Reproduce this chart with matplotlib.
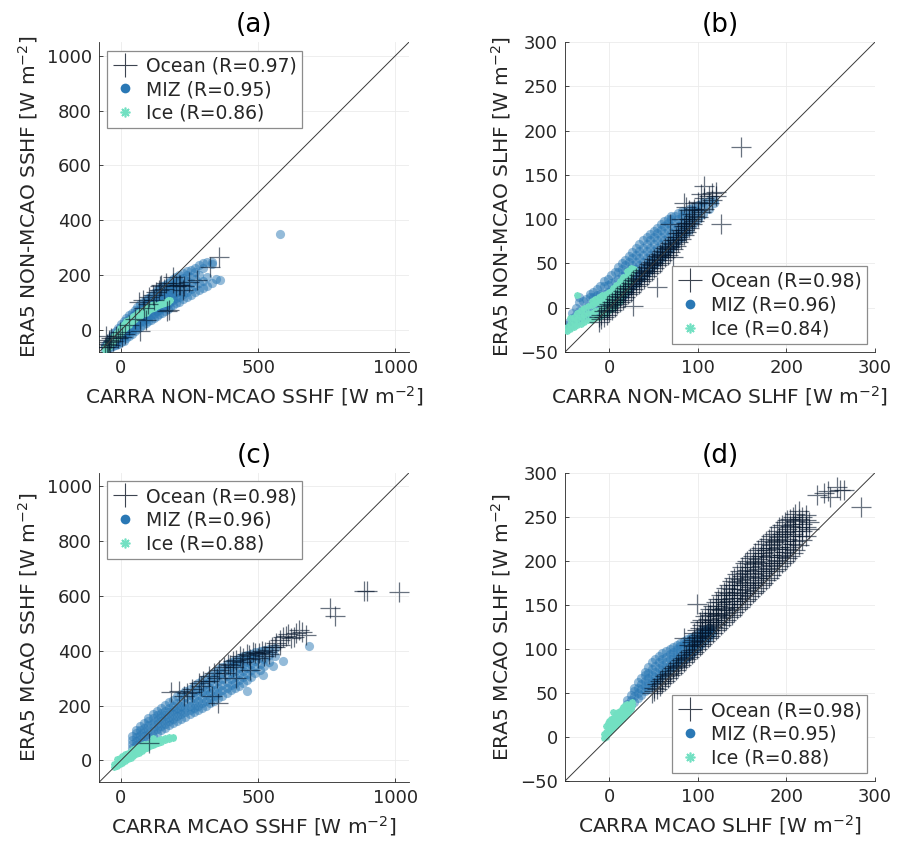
import matplotlib
matplotlib.use('Agg')
import matplotlib.pyplot as plt
from matplotlib.lines import Line2D
import numpy as np

plt.rcParams['font.family'] = 'DejaVu Sans'

# ---- data ----
# each cloud is stored as {CARRA value: [ERA5 values at that CARRA value]}, W m-2

# (a) NON-MCAO SSHF
a_miz = {-60: [-72, -62, -55], -50: [-68, -58, -46], -40: [-64, -52, -40, -30],
         -30: [-58, -46, -34, -22, -12], -20: [-54, -40, -28, -15, -3], -10: [-50, -36, -22, -8, 8],
         0: [-45, -30, -16, -2, 12, 22], 10: [-38, -24, -10, 5, 20, 32], 20: [-30, -16, -2, 14, 30, 44],
         30: [-22, -8, 8, 24, 40, 55], 40: [-14, 2, 18, 34, 50, 64], 50: [-5, 12, 28, 44, 60, 74],
         60: [5, 20, 36, 52, 68, 84], 70: [12, 28, 44, 60, 76, 94], 80: [18, 34, 50, 66, 84, 102],
         90: [25, 42, 58, 74, 92, 110], 100: [32, 48, 64, 80, 98, 118], 110: [38, 54, 70, 88, 106, 126],
         120: [45, 60, 78, 96, 114, 136], 130: [52, 68, 86, 104, 122, 146], 140: [58, 74, 92, 110, 130, 152],
         150: [62, 80, 98, 116, 136, 160], 160: [70, 88, 106, 124, 144, 166], 170: [76, 94, 112, 130, 150, 172],
         180: [85, 102, 120, 138, 158, 178], 190: [90, 108, 126, 146, 166, 186],
         200: [98, 116, 134, 152, 172, 195], 210: [104, 122, 140, 160, 180, 200],
         225: [112, 130, 150, 170, 190, 207], 240: [120, 140, 160, 180, 200, 214],
         255: [128, 150, 172, 195, 220], 270: [138, 160, 185, 210, 228], 285: [145, 170, 200, 236],
         300: [152, 180, 225, 243], 315: [162, 195, 248], 330: [172, 240, 250], 345: [185],
         362: [183], 580: [350]}
a_ice = {-60: [-72, -62], -52: [-68, -58, -48], -44: [-60, -50, -40], -36: [-52, -42, -32],
         -28: [-42, -32, -22], -20: [-32, -22, -12], -12: [-22, -12, -2], -4: [-14, -4, 8],
         4: [-4, 6, 16], 12: [4, 14, 24], 20: [12, 22, 32], 28: [20, 30, 38], 36: [28, 36, 44],
         44: [34, 42, 50], 52: [40, 48, 56], 60: [46, 54, 62], 70: [52, 60, 68], 80: [58, 66, 74],
         90: [64, 72, 80], 100: [70, 78, 86], 110: [76, 84, 90], 120: [80, 88, 94], 130: [86, 92],
         140: [90, 96], 150: [94, 100], 160: [98, 104], 170: [102, 108], 180: [108]}
a_ocean = {-60: [-62], -55: [-23], -52: [-50], -49: [-60], -45: [-44], -43: [-35], -40: [-55],
           -35: [-30], -28: [-38], -20: [-22], -12: [-30], -5: [-8], 5: [-25], 15: [-15], 30: [20],
           50: [40], 67: [104], 70: [-5], 79: [110], 85: [80], 91: [38], 100: [95], 103: [122],
           115: [128], 120: [110], 128: [140], 140: [147], 143: [159], 146: [165], 155: [150],
           164: [171], 168: [68], 176: [74], 188: [171], 191: [195], 200: [160], 213: [165],
           216: [165], 225: [147], 231: [159], 249: [177], 277: [183], 326: [231], 356: [268]}

# (b) NON-MCAO SLHF
b_miz = {-50: [-24, -20], -46: [-22, -16], -42: [-20, -12, -6], -38: [-16, -8, 0],
         -34: [-14, -4, 6, 12], -30: [-12, -2, 8], -26: [-10, 0, 10], -22: [-8, 2, 12, 16],
         -18: [-6, 4, 12, 18], -14: [-4, 6, 14, 21], -10: [-2, 8, 16, 24], -6: [0, 8, 16, 24, 30],
         -2: [2, 10, 18, 26, 33], 2: [4, 12, 20, 28, 37], 6: [6, 14, 22, 30, 40],
         10: [8, 16, 24, 32, 40, 46], 14: [12, 20, 28, 36, 44, 50], 18: [16, 24, 32, 40, 48, 54],
         22: [20, 28, 36, 44, 52, 58], 26: [24, 32, 40, 48, 56, 63], 30: [28, 36, 44, 52, 60, 67],
         34: [32, 40, 48, 56, 64, 72], 38: [36, 44, 52, 60, 68, 76], 42: [40, 48, 56, 64, 72, 80],
         46: [44, 52, 60, 68, 76, 83], 50: [48, 56, 64, 72, 80, 87], 54: [52, 60, 68, 76, 84, 90],
         58: [56, 64, 72, 80, 88, 94], 62: [60, 68, 76, 84, 92, 98], 66: [64, 72, 80, 88, 96, 100],
         70: [68, 76, 84, 92, 100, 104], 74: [72, 80, 88, 96, 104], 78: [76, 84, 92, 100, 107],
         82: [80, 88, 96, 104, 109], 86: [84, 92, 100, 108], 90: [88, 96, 104, 112],
         95: [94, 102, 110, 114], 100: [100, 108, 116], 106: [106, 114, 119], 112: [112, 120],
         118: [118, 122]}
b_ice = {-48: [-26, -22], -44: [-24, -18, -12], -40: [-22, -16, -10], -36: [-20, -13, -6, 14],
         -32: [-18, -10, -3], -28: [-16, -8, 0], -24: [-14, -6, 2], -20: [-14, -6, 3, 8],
         -16: [-12, -4, 5, 10], -12: [-10, -2, 6, 12], -8: [-8, 0, 8, 14], -4: [-6, 2, 10, 16],
         0: [-3, 5, 12, 18], 4: [0, 8, 16, 22], 8: [4, 12, 20, 26], 12: [8, 16, 24, 30],
         16: [14, 22, 30, 35], 20: [20, 28, 36, 42], 24: [30, 38, 45], 28: [44]}
b_ocean = {-12: [-16, -10], -9: [-13, -8], -6: [-10, -4], -3: [-8, -2, 2], 0: [-5, 0, 4],
           3: [-2, 3, 7], 6: [1, 6, 10], 9: [4, 9, 13], 12: [6, 12, 16], 15: [9, 15, 19],
           18: [12, 18, 22], 21: [15, 21, 25], 24: [18, 24, 28], 27: [1.5, 21, 27, 31],
           30: [24, 30, 34], 33: [27, 33, 37], 36: [30, 36, 40], 39: [33, 39, 43], 42: [36, 42, 46],
           45: [39, 45, 49], 48: [42, 48, 52], 51: [45, 51, 55], 54: [23, 48, 54, 58],
           57: [51, 57, 61], 60: [54, 60, 64], 63: [57, 63, 67], 66: [60, 66, 70],
           69: [63, 69, 73, 95], 72: [57, 66, 72, 76], 75: [70, 76, 80], 78: [74, 80, 84],
           81: [78, 84, 88, 100], 84: [82, 88, 92, 118], 87: [86, 92, 96, 114], 90: [90, 96, 100, 110],
           93: [94, 100, 106], 96: [98, 104, 112], 100: [102, 110, 119], 104: [108, 118, 128],
           107: [112, 124, 138], 112: [118, 126], 116: [122, 130], 120: [126, 131], 126: [95],
           149: [182]}

# (c) MCAO SSHF
c_miz = {40: [45, 60, 75, 90], 55: [55, 70, 85, 100, 110], 70: [62, 78, 94, 110, 124],
         85: [72, 88, 104, 120, 138], 100: [80, 96, 112, 128, 144, 155],
         115: [90, 106, 122, 138, 154, 168], 130: [100, 116, 132, 148, 164, 180],
         145: [110, 126, 142, 158, 174, 192], 160: [118, 134, 150, 166, 182, 202],
         175: [128, 144, 160, 176, 192, 212], 190: [136, 152, 168, 184, 200, 222],
         205: [145, 161, 177, 193, 210, 234], 220: [152, 168, 184, 200, 218, 244],
         235: [160, 176, 192, 210, 230, 252], 250: [168, 184, 200, 218, 238, 262],
         265: [176, 192, 210, 228, 248, 272], 280: [184, 200, 218, 238, 258, 282],
         295: [192, 210, 228, 248, 268, 292], 310: [200, 218, 238, 258, 280, 302],
         325: [208, 226, 246, 266, 290, 312], 340: [216, 236, 256, 278, 300, 322],
         355: [226, 246, 266, 288, 310, 332], 370: [236, 256, 276, 298, 320, 342],
         385: [246, 266, 286, 308, 330, 350], 400: [256, 276, 296, 318, 340, 358],
         415: [264, 284, 306, 328, 350, 365], 430: [272, 294, 316, 338, 360, 372],
         445: [282, 304, 326, 348, 368, 380], 460: [252, 292, 316, 338, 360, 385],
         475: [305, 330, 352, 372, 390], 490: [318, 340, 362, 382, 395], 505: [330, 352, 374, 398],
         516: [313], 520: [345, 370, 402], 540: [360, 385, 406], 553: [343], 560: [380, 410],
         589: [361], 686: [416]}
c_ice = {-25: [-25, -15], -15: [-20, -8, 4], -5: [-14, -2, 10], 5: [-8, 4, 16], 15: [-2, 10, 22],
         25: [4, 16, 28], 35: [10, 22, 34], 45: [16, 28, 40], 55: [22, 34, 46], 65: [28, 40, 50],
         75: [34, 46, 56], 85: [40, 52, 60], 95: [46, 58], 105: [52, 62], 115: [56, 66, 80],
         125: [60, 70], 135: [64, 74], 145: [68, 78], 160: [74, 82], 175: [78, 84], 190: [80, 86]}
c_ocean = {103: [63], 182: [250], 210: [252], 230: [235], 240: [245], 260: [250, 260],
           286: [282], 290: [270], 300: [290], 320: [290], 322: [307], 330: [235], 340: [320],
           350: [300], 352: [209], 358: [331], 375: [340], 380: [320], 390: [350], 399: [349],
           407: [361], 410: [340], 420: [365, 300], 432: [380], 440: [360], 445: [375], 458: [388],
           468: [386], 470: [370, 330], 480: [395], 490: [392], 500: [375], 504: [392], 515: [400],
           520: [380], 525: [395], 540: [390], 541: [404], 550: [415], 560: [415], 565: [428],
           580: [440, 420], 590: [450], 601: [453], 610: [460], 620: [445], 629: [452], 638: [465],
           650: [477], 660: [470], 674: [459], 763: [556], 781: [526], 885: [617], 897: [617],
           1012: [614]}

# (d) MCAO SLHF
d_miz = {20: [34, 38, 42], 24: [36, 42, 48], 28: [40, 46, 52, 56], 32: [44, 50, 56, 62],
         36: [48, 54, 60, 67], 40: [52, 58, 64, 70, 74], 44: [55, 61, 67, 73, 80],
         48: [58, 64, 70, 77, 85], 52: [62, 68, 74, 81, 89], 56: [66, 72, 78, 85, 92],
         60: [70, 76, 82, 88, 95], 64: [73, 79, 85, 91, 98], 68: [76, 82, 88, 94, 100],
         72: [79, 85, 91, 97, 102], 76: [82, 88, 94, 100, 104], 80: [85, 91, 97, 103, 107],
         84: [88, 94, 100, 105, 109], 88: [91, 97, 103, 108, 111], 92: [94, 100, 106, 111, 114],
         96: [98, 104, 109, 114], 100: [102, 107, 112, 117], 104: [106, 111, 116, 120],
         108: [110, 115, 120, 123], 112: [114, 119, 124], 116: [118, 122]}
d_ice = {-6: [-1, 3], -4: [0, 6, 12], -2: [4, 10, 16], 0: [6, 12, 18], 2: [8, 14, 20],
         4: [10, 16, 22, 28], 6: [12, 18, 24], 8: [14, 20, 26], 10: [16, 22, 28], 12: [18, 24, 30],
         14: [20, 26, 32], 16: [22, 28, 34], 18: [24, 30, 36], 20: [26, 32, 38], 22: [30, 36],
         24: [32, 38], 26: [36, 40]}
d_ocean = {48: [50], 51: [52, 56], 54: [55, 60], 57: [58, 63], 60: [61, 66], 63: [64, 69],
           66: [67, 72], 69: [70, 75], 72: [73, 78], 75: [76, 81], 78: [79, 84], 81: [82, 87],
           84: [85, 90, 112], 87: [88, 93], 90: [91, 96, 104], 93: [94, 99, 108],
           96: [97, 103, 110, 118], 99: [100, 106, 113, 121, 151], 102: [103, 109, 116, 124, 130],
           105: [106, 112, 119, 127, 133], 108: [109, 115, 123, 131, 137],
           111: [112, 118, 126, 134, 141], 114: [115, 122, 130, 138, 145],
           117: [118, 125, 133, 141, 149], 120: [121, 128, 137, 145, 153],
           123: [124, 131, 140, 149, 157], 126: [127, 135, 144, 153, 161],
           129: [130, 138, 147, 157, 165], 132: [133, 141, 151, 161, 169],
           135: [136, 144, 154, 164, 173], 138: [139, 148, 158, 168, 177],
           141: [142, 151, 161, 172, 181], 144: [145, 154, 165, 176, 185],
           147: [148, 158, 168, 179, 189], 150: [151, 161, 172, 183, 193],
           153: [154, 164, 175, 186, 197], 156: [157, 167, 178, 190, 200],
           159: [160, 170, 182, 193, 203], 162: [163, 173, 185, 196, 206],
           165: [166, 176, 188, 199, 209], 168: [169, 180, 191, 202, 212],
           171: [172, 183, 194, 205, 215], 174: [175, 186, 197, 209, 219],
           177: [178, 189, 200, 212, 222], 180: [181, 192, 204, 215, 225],
           183: [184, 195, 207, 218, 228], 186: [188, 198, 210, 221, 231],
           189: [191, 201, 213, 224, 234], 192: [194, 204, 216, 227, 238],
           195: [197, 207, 219, 230, 241], 198: [200, 210, 222, 233, 244],
           201: [203, 213, 225, 236, 246], 204: [206, 216, 228, 239, 248],
           207: [209, 219, 231, 242, 250], 210: [212, 222, 234, 245, 253],
           214: [218, 228, 238, 248, 256], 218: [224, 234, 242, 250], 222: [228, 238, 246, 252],
           226: [236, 244], 235: [275], 242: [277], 247: [279], 249: [273], 257: [284], 260: [280],
           265: [280], 284: [261]}

r_values = {'a': (0.97, 0.95, 0.86), 'b': (0.98, 0.96, 0.84),
            'c': (0.98, 0.96, 0.88), 'd': (0.98, 0.95, 0.88)}

sshf_lim = [-80, 1050]
slhf_lim = [-50, 300]
sshf_ticks = [0, 500, 1000]
sshf_yticks = [0, 200, 400, 600, 800, 1000]
slhf_ticks = [0, 100, 200, 300]
slhf_yticks = [-50, 0, 50, 100, 150, 200, 250, 300]

ocean_col = '#03142a'
miz_col = '#2a78b5'
ice_col = '#72e0c2'
txt_col = '#262626'


def unpack(cols):
    xs, ys = [], []
    for x, yl in cols.items():
        for y in yl:
            xs.append(x)
            ys.append(y)
    return np.array(xs, dtype=float), np.array(ys, dtype=float)


panels = [
    ('a', a_ocean, a_miz, a_ice, sshf_lim, sshf_ticks, sshf_yticks, 'NON-MCAO SSHF', 'ul'),
    ('b', b_ocean, b_miz, b_ice, slhf_lim, slhf_ticks, slhf_yticks, 'NON-MCAO SLHF', 'lr'),
    ('c', c_ocean, c_miz, c_ice, sshf_lim, sshf_ticks, sshf_yticks, 'MCAO SSHF', 'ul'),
    ('d', d_ocean, d_miz, d_ice, slhf_lim, slhf_ticks, slhf_yticks, 'MCAO SLHF', 'lr'),
]
positions = {'a': [0.1098, 0.5829, 0.3437, 0.3673], 'b': [0.6264, 0.5829, 0.3437, 0.3673],
             'c': [0.1098, 0.0731, 0.3437, 0.3668], 'd': [0.6264, 0.0746, 0.3437, 0.3653]}

fig = plt.figure(figsize=(9.02, 8.44), dpi=100)

for name, ocean, miz, ice, lim, xt, yt, var, legpos in panels:
    ax = fig.add_axes(positions[name])
    mx, my = unpack(miz)
    ix, iy = unpack(ice)
    ox, oy = unpack(ocean)

    ax.plot(mx, my, ls='none', marker='o', ms=6.6, mfc=miz_col, mec='none', alpha=0.5, zorder=2)
    ax.plot(ix, iy, ls='none', marker=(8, 2, 0), ms=4.6, mec=ice_col, mew=1.3, alpha=0.95, zorder=3)
    ax.plot(ox, oy, ls='none', marker='+', ms=15, mew=0.9, color=ocean_col, alpha=0.6, zorder=4)
    ax.plot(lim, lim, color='#3a3a3a', lw=0.7, zorder=5)

    ax.set_xlim(lim)
    ax.set_ylim(lim)
    ax.set_xticks(xt)
    ax.set_yticks(yt)
    ax.grid(True, color='#ebebeb', lw=0.6)
    ax.set_axisbelow(True)
    for s in ['top', 'right']:
        ax.spines[s].set_visible(False)
    for s in ['left', 'bottom']:
        ax.spines[s].set_color(txt_col)
        ax.spines[s].set_linewidth(0.6)
    ax.tick_params(direction='in', length=3, width=0.6, color=txt_col, labelcolor=txt_col,
                   labelsize=13, pad=5)

    ax.set_title('(%s)' % name, fontsize=19, color='black', pad=7)
    ax.set_xlabel('CARRA %s [W m$^{-2}$]' % var, fontsize=14.5, color=txt_col, labelpad=5)
    ax.set_ylabel('ERA5 %s [W m$^{-2}$]' % var, fontsize=14.5, color=txt_col, labelpad=5)

    r = r_values[name]
    handles = [Line2D([], [], ls='none', marker='+', ms=17, mew=0.8, color='#3c4450'),
               Line2D([], [], ls='none', marker='o', ms=7, mfc=miz_col, mec='none'),
               Line2D([], [], ls='none', marker=(8, 2, 0), ms=7, mec=ice_col, mew=1.2)]
    labels = ['Ocean (R=%.2f)' % r[0], 'MIZ (R=%.2f)' % r[1], 'Ice (R=%.2f)' % r[2]]
    if legpos == 'ul':
        loc, anchor = 'upper left', (0.026, 0.972)
    else:
        loc, anchor = 'lower right', (0.974, 0.026)
    leg = ax.legend(handles, labels, loc=loc, bbox_to_anchor=anchor, borderaxespad=0,
                    fontsize=13.5, fancybox=False, framealpha=1, edgecolor='#8c8c8c',
                    handlelength=1.3, handletextpad=0.45, labelspacing=0.25,
                    borderpad=0.3, labelcolor=txt_col)
    leg.get_frame().set_linewidth(0.9)
    leg.set_zorder(10)

fig.savefig('out.png', dpi=100)
